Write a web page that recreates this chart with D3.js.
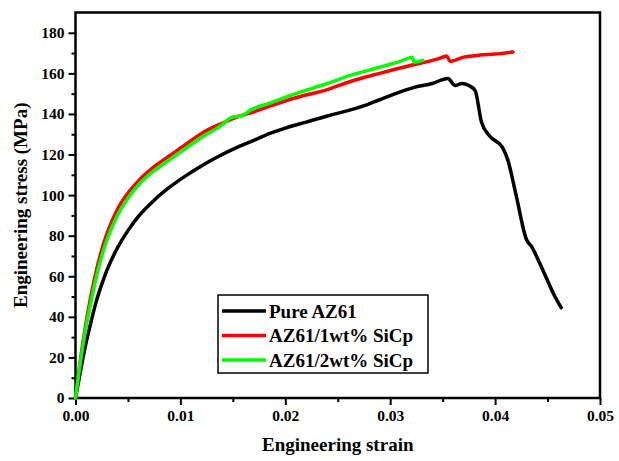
<!DOCTYPE html>
<html>
<head>
<meta charset="utf-8">
<script src="https://cdn.jsdelivr.net/npm/d3@7"></script>
<style>
  body { margin: 0; background: #fff; }
  #chart-area { width: 619px; height: 461px; }
  .axis text { font-family: "Liberation Serif", "Times New Roman", serif; font-weight: bold; font-size: 15.5px; fill: #000; }
  .axis-title { font-family: "Liberation Serif", "Times New Roman", serif; font-weight: bold; font-size: 19px; }
  .legend text { font-family: "Liberation Serif", "Times New Roman", serif; font-weight: bold; font-size: 19px; }
</style>
</head>
<body>
<div id="chart-area"></div>
<script>

// strain / stress pairs
let pureAZ61 = [
  [0,0],[0.0005,14],[0.001,27],[0.0015,38],[0.002,48],[0.0025,56],[0.003,63],[0.004,74],
  [0.005,82.5],[0.006,89.5],[0.0075,97.5],[0.009,104],[0.0105,109.5],[0.0122,115],[0.0138,119.5],
  [0.0154,123.5],[0.017,127],[0.0186,130.5],[0.02,133],[0.022,136],[0.024,139],[0.0262,142],
  [0.028,145],[0.029,147],[0.0305,150],[0.0322,153],[0.034,155],[0.0355,157.5],[0.0362,154],
  [0.0368,155],[0.0375,154],[0.0381,151.5],[0.0387,136],[0.0395,129],[0.0407,123.5],
  [0.0412,117.5],[0.042,100],[0.043,78],[0.0435,74.5],[0.0442,67],[0.0449,59],[0.0456,51],
  [0.0463,44.5]
];
let sic1 = [
  [0,0],[0.0005,20],[0.001,37],[0.0015,51],[0.002,63],[0.0025,73],[0.003,81],[0.004,93],
  [0.005,101],[0.006,107],[0.0075,114],[0.009,119.5],[0.0105,125],[0.0122,131],[0.0138,135],
  [0.0154,138.5],[0.0167,140.5],[0.0186,144],[0.021,148],[0.024,152],[0.0262,156],[0.029,160],
  [0.032,164],[0.0345,167],[0.0354,168.5],[0.0357,166],[0.037,168],[0.0386,169],[0.040,169.5],
  [0.0417,170.5]
];
let sic2 = [
  [0,0],[0.0005,19],[0.001,35],[0.0015,48],[0.002,60],[0.0025,70],[0.003,78],[0.004,90],
  [0.005,98.5],[0.006,105],[0.0075,112],[0.009,117.5],[0.0105,123],[0.0122,129],[0.0138,134],
  [0.015,138.5],[0.0158,139],[0.0167,142],[0.0186,145.5],[0.021,150],[0.024,155],[0.0262,159],
  [0.029,163],[0.031,166],[0.0321,168],[0.0323,165.5],[0.0331,166.5]
];

let seriesNames = ["Pure AZ61", "AZ61/1wt% SiCp", "AZ61/2wt% SiCp"];
let seriesColors = ["#000000", "#ff0000", "#00ff00"];
let xTicks = [0, 0.01, 0.02, 0.03, 0.04, 0.05];
let yTicks = [0, 20, 40, 60, 80, 100, 120, 140, 160, 180];

let margin = {top: 12.5, right: 19, bottom: 63, left: 75.5},
    width = 619 - margin.left - margin.right,
    height = 461 - margin.top - margin.bottom;

let svg = d3.select("#chart-area").append("svg")
    .attr("width", 619)
    .attr("height", 461)
    .append("g")
    .attr("transform", "translate(" + margin.left + "," + margin.top + ")");

let x = d3.scaleLinear()
    .domain([0, 0.05])
    .range([0, width]);

let y = d3.scaleLinear()
    .domain([0, 190])
    .range([height, 0]);

// minor ticks first, then majors with labels
svg.append("g")
    .attr("class", "axis")
    .attr("transform", "translate(0," + height + ")")
    .call(d3.axisBottom(x).tickValues(d3.range(0.005, 0.05, 0.01)).tickSize(4).tickFormat(""))
    .call(g => g.selectAll("line").attr("stroke-width", 2))
    .call(g => g.select(".domain").remove());

svg.append("g")
    .attr("class", "axis")
    .attr("transform", "translate(0," + height + ")")
    .call(d3.axisBottom(x).tickValues(xTicks).tickSize(7).tickPadding(5).tickFormat(d3.format(".2f")))
    .call(g => g.selectAll("line").attr("stroke-width", 2))
    .call(g => g.select(".domain").remove());

svg.append("g")
    .attr("class", "axis")
    .call(d3.axisLeft(y).tickValues(d3.range(10, 190, 20)).tickSize(4).tickFormat(""))
    .call(g => g.selectAll("line").attr("stroke-width", 2))
    .call(g => g.select(".domain").remove());

svg.append("g")
    .attr("class", "axis")
    .call(d3.axisLeft(y).tickValues(yTicks).tickSize(7).tickPadding(4))
    .call(g => g.selectAll("line").attr("stroke-width", 2))
    .call(g => g.select(".domain").remove());

// frame
svg.append("rect")
    .attr("width", width)
    .attr("height", height)
    .attr("fill", "none")
    .attr("stroke", "#000")
    .attr("stroke-width", 2.5);

let line = d3.line()
    .x(function(d){ return x(d[0]); })
    .y(function(d){ return y(d[1]); })
    .curve(d3.curveMonotoneX);

let allSeries = [pureAZ61, sic1, sic2];

svg.selectAll(".curve")
    .data(allSeries)
    .enter()
    .append("path")
    .attr("class", "curve")
    .attr("fill", "none")
    .attr("stroke", function(d, i){ return seriesColors[i]; })
    .attr("stroke-width", 3.5)
    .attr("stroke-linejoin", "round")
    .attr("stroke-linecap", "round")
    .attr("d", line);

// axis titles
svg.append("text")
    .attr("class", "axis-title")
    .attr("x", width / 2)
    .attr("y", height + 53)
    .attr("text-anchor", "middle")
    .text("Engineering strain");

svg.append("text")
    .attr("class", "axis-title")
    .attr("transform", "translate(" + (-49) + "," + (height / 2) + ") rotate(-90)")
    .attr("text-anchor", "middle")
    .text("Engineering stress (MPa)");

// legend
let legend = svg.append("g")
    .attr("class", "legend")
    .attr("transform", "translate(" + (218 - margin.left) + "," + (295 - margin.top) + ")");

legend.append("rect")
    .attr("width", 210)
    .attr("height", 78)
    .attr("fill", "#fff")
    .attr("stroke", "#000")
    .attr("stroke-width", 1.5);

let rows = legend.selectAll(".row")
    .data(seriesNames)
    .enter()
    .append("g")
    .attr("class", "row")
    .attr("transform", function(d, i){ return "translate(0," + (16 + i * 24.5) + ")"; });

rows.append("line")
    .attr("x1", 4)
    .attr("x2", 48)
    .attr("stroke", function(d, i){ return seriesColors[i]; })
    .attr("stroke-width", 3.5);

rows.append("text")
    .attr("x", 51)
    .attr("dy", "0.35em")
    .text(function(d){ return d; });

</script>
</body>
</html>
